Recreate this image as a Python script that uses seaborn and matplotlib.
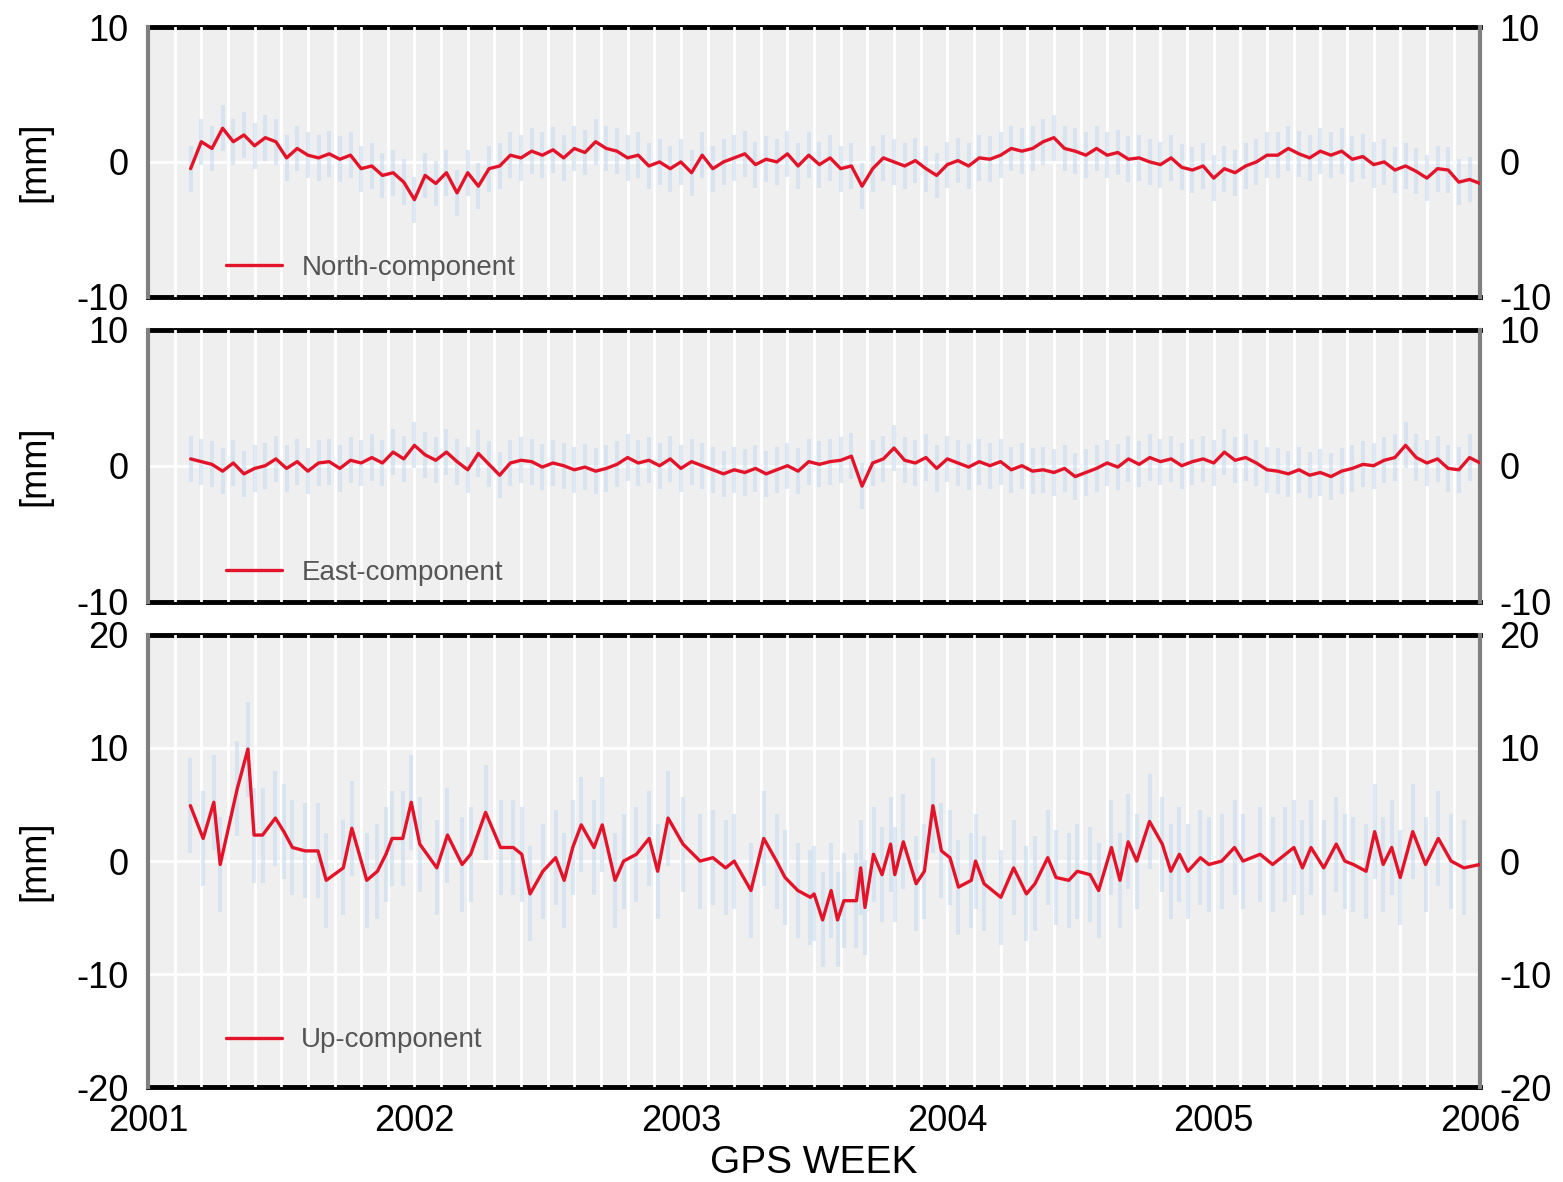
import numpy as np
import matplotlib
matplotlib.use("Agg")
import matplotlib.pyplot as plt
import seaborn as sns

# weekly GPS residuals [mm]
north = [-0.5, 1.5, 1.0, 2.5, 1.5,
         2.0, 1.2, 1.8, 1.5, 0.3,
         1.0, 0.5, 0.3, 0.6, 0.2,
         0.5, -0.5, -0.3, -1.0, -0.8,
         -1.5, -2.8, -1.0, -1.6, -0.8,
         -2.3, -0.8, -1.8, -0.5, -0.3,
         0.5, 0.3, 0.8, 0.5, 0.9,
         0.3, 1.0, 0.7, 1.5, 1.0,
         0.8, 0.3, 0.5, -0.3, 0.0,
         -0.5, 0.0, -0.8, 0.5, -0.5,
         0.0, 0.3, 0.6, -0.2, 0.2,
         0.0, 0.6, -0.3, 0.5, -0.2,
         0.3, -0.5, -0.3, -1.8, -0.5,
         0.3, 0.0, -0.3, 0.1, -0.5,
         -1.0, -0.2, 0.1, -0.3, 0.3,
         0.2, 0.5, 1.0, 0.8, 1.0,
         1.5, 1.8, 1.0, 0.8, 0.5,
         1.0, 0.5, 0.7, 0.2, 0.3,
         0.0, -0.2, 0.3, -0.4, -0.6,
         -0.3, -1.2, -0.5, -0.8, -0.3,
         0.0, 0.5, 0.5, 1.0, 0.6,
         0.3, 0.8, 0.5, 0.8, 0.2,
         0.4, -0.2, 0.0, -0.6, -0.3,
         -0.7, -1.2, -0.5, -0.6, -1.5,
         -1.3, -1.6]

east = [0.5, 0.3, 0.1, -0.4, 0.2,
        -0.6, -0.2, 0.0, 0.5, -0.2,
        0.3, -0.4, 0.2, 0.3, -0.2,
        0.4, 0.2, 0.6, 0.2, 1.0,
        0.5, 1.5, 0.8, 0.4, 1.0,
        0.3, -0.3, 0.9, 0.1, -0.7,
        0.2, 0.4, 0.3, -0.1, 0.2,
        0.0, -0.3, -0.1, -0.4, -0.2,
        0.1, 0.6, 0.2, 0.4, 0.0,
        0.5, -0.2, 0.3, 0.0, -0.3,
        -0.6, -0.3, -0.5, -0.2, -0.6,
        -0.3, 0.0, -0.4, 0.3, 0.1,
        0.3, 0.4, 0.7, -1.5, 0.2,
        0.5, 1.3, 0.4, 0.2, 0.6,
        -0.2, 0.5, 0.2, -0.1, 0.3,
        0.0, 0.3, -0.3, 0.0, -0.4,
        -0.3, -0.5, -0.2, -0.8, -0.5,
        -0.2, 0.2, -0.1, 0.5, 0.1,
        0.6, 0.3, 0.5, 0.0, 0.3,
        0.5, 0.2, 1.0, 0.4, 0.6,
        0.2, -0.3, -0.4, -0.6, -0.3,
        -0.7, -0.5, -0.8, -0.4, -0.2,
        0.1, 0.0, 0.4, 0.6, 1.5,
        0.6, 0.2, 0.5, -0.2, -0.3,
        0.6, 0.2]

up_t = [2001.159, 2001.207, 2001.247, 2001.271, 2001.335, 2001.375, 2001.398, 2001.430,
        2001.478, 2001.510, 2001.542, 2001.590, 2001.638, 2001.669, 2001.733, 2001.765,
        2001.821, 2001.861, 2001.893, 2001.916, 2001.956, 2001.988, 2002.020, 2002.084,
        2002.124, 2002.179, 2002.211, 2002.267, 2002.323, 2002.371, 2002.403, 2002.434,
        2002.482, 2002.530, 2002.562, 2002.594, 2002.626, 2002.674, 2002.705, 2002.753,
        2002.785, 2002.833, 2002.881, 2002.913, 2002.952, 2003.008, 2003.072, 2003.120,
        2003.168, 2003.200, 2003.263, 2003.311, 2003.359, 2003.391, 2003.439, 2003.486,
        2003.500, 2003.532, 2003.564, 2003.588, 2003.612, 2003.659, 2003.675, 2003.691,
        2003.723, 2003.755, 2003.787, 2003.803, 2003.835, 2003.883, 2003.914, 2003.946,
        2003.978, 2004.010, 2004.042, 2004.090, 2004.106, 2004.138, 2004.201, 2004.249,
        2004.297, 2004.329, 2004.377, 2004.408, 2004.456, 2004.488, 2004.536, 2004.568,
        2004.616, 2004.648, 2004.679, 2004.711, 2004.759, 2004.807, 2004.839, 2004.871,
        2004.903, 2004.950, 2004.982, 2005.030, 2005.078, 2005.110, 2005.174, 2005.221,
        2005.269, 2005.301, 2005.333, 2005.365, 2005.413, 2005.460, 2005.492, 2005.524,
        2005.572, 2005.604, 2005.636, 2005.668, 2005.700, 2005.747, 2005.795, 2005.843,
        2005.891, 2005.939, 2005.999]
up = [4.9, 2.0, 5.2, -0.3, 6.4, 9.9, 2.3, 2.3,
      3.8, 2.6, 1.2, 0.9, 0.9, -1.7, -0.6, 2.9,
      -1.7, -0.9, 0.6, 2.0, 2.0, 5.2, 1.5, -0.6,
      2.3, -0.3, 0.6, 4.3, 1.2, 1.2, 0.6, -2.9,
      -0.9, 0.3, -1.7, 1.2, 3.2, 1.2, 3.2, -1.7,
      0.0, 0.6, 2.0, -0.9, 3.8, 1.5, 0.0, 0.3,
      -0.6, 0.0, -2.6, 2.0, 0.0, -1.45, -2.6, -3.2,
      -2.9, -5.2, -2.6, -5.2, -3.5, -3.5, -0.6, -4.1,
      0.6, -1.2, 1.5, -1.2, 1.7, -2.0, -0.9, 4.9,
      0.9, 0.3, -2.3, -1.7, 0.0, -2.0, -3.2, -0.6,
      -2.9, -2.0, 0.3, -1.45, -1.7, -0.9, -1.2, -2.6,
      1.2, -1.7, 1.7, 0.0, 3.5, 1.5, -0.9, 0.6,
      -0.9, 0.3, -0.3, 0.0, 1.2, 0.0, 0.6, -0.3,
      0.6, 1.2, -0.6, 1.2, -0.6, 1.5, 0.0, -0.3,
      -0.9, 2.6, -0.3, 1.2, -1.45, 2.6, -0.3, 2.0,
      0.0, -0.6, -0.3]

sigma_north = 1.7
sigma_east = 1.7
sigma_up = 4.2

years = [2001, 2002, 2003, 2004, 2005, 2006]
labels = ["North-component", "East-component", "Up-component"]

t_ne = np.linspace(2001.16, 2006.0, len(north))

sns.set_theme(style="darkgrid", rc={"axes.facecolor": "#efefef",
                                     "grid.color": "white",
                                     "text.color": "black",
                                     "xtick.color": "black",
                                     "ytick.color": "black",
                                     "axes.labelcolor": "black",
                                     "axes.unicode_minus": False})
plt.rcParams["font.family"] = ["Liberation Sans", "DejaVu Sans"]

fig = plt.figure(figsize=(15.63, 11.82), dpi=100)
L, W = 0.0947, 0.8523
boxes = [(0.749, 0.228), (0.491, 0.230), (0.080, 0.383)]
axes = []
for i, (b, h) in enumerate(boxes):
    ax = fig.add_axes([L, b, W, h], sharex=axes[0] if axes else None)
    axes.append(ax)

series = [(t_ne, north, sigma_north, 10), (t_ne, east, sigma_east, 10),
          (up_t, up, sigma_up, 20)]

for ax, (t, v, s, lim), lab in zip(axes, series, labels):
    t = np.asarray(t)
    v = np.asarray(v)
    ax.vlines(t, v - s, v + s, color="#c4dcf0", alpha=0.55, lw=3, zorder=1.8)
    sns.lineplot(x=t, y=v, ax=ax, color="#e3142a", lw=2.4, label=lab, zorder=3)
    ax.set_ylim(-lim, lim)
    ax.set_yticks(np.arange(-lim, lim + 1, 10))
    ax.set_xlim(2001, 2006)
    ax.set_xticks(years)
    ax.set_xticks(np.arange(2001, 2006.01, 0.1), minor=True)
    ax.grid(False)
    ax.grid(which="both", axis="x", color="white", lw=2)
    for yv in np.arange(-lim + 10, lim, 10):
        ax.axhline(yv, color="white", lw=2, zorder=0.6)
    ax.set_axisbelow(True)
    ax.tick_params(which="both", length=0)
    ax.tick_params(axis="y", labelright=True, labelsize=26, pad=14)
    ax.tick_params(axis="x", labelsize=26, pad=12)
    for side in ["left", "right"]:
        ax.spines[side].set_visible(True)
        ax.spines[side].set_color("#808080")
        ax.spines[side].set_linewidth(3)
    for side in ["top", "bottom"]:
        ax.spines[side].set_visible(True)
        ax.spines[side].set_color("black")
        ax.spines[side].set_linewidth(3.5)
        ax.spines[side].set_zorder(0.3)
    ax.set_ylabel("[mm]", fontsize=26)
    ax.yaxis.set_label_coords(-0.072, 0.5)
    ax.set_xlabel("")
    leg = ax.legend(loc="lower left", bbox_to_anchor=(0.04, -0.035 if lim == 10 else 0.02),
                    frameon=False, fontsize=20, handlelength=2.0, handletextpad=0.7)
    for txt in leg.get_texts():
        txt.set_color("#555555")

for ax in axes[:2]:
    ax.tick_params(axis="x", labelbottom=False)

axes[2].set_xlabel("GPS WEEK", fontsize=28, labelpad=4)

fig.savefig("out.png", dpi=100)
